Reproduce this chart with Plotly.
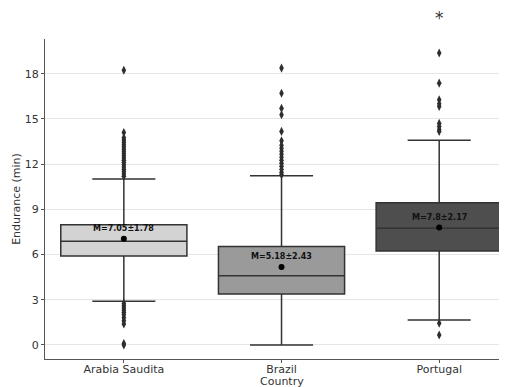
import plotly.graph_objects as go

countries = ["Arabia Saudita", "Brazil", "Portugal"]
q1 = [5.91, 3.38, 6.24]
medians = [6.88, 4.60, 7.75]
q3 = [7.97, 6.53, 9.43]
lower_whisker = [2.90, 0.0, 1.66]
upper_whisker = [11.02, 11.22, 13.59]
means = [7.05, 5.18, 7.80]
sds = [1.78, 2.43, 2.17]
box_colors = ["#d3d3d3", "#9a9a9a", "#4e4e4e"]

outliers = {
    "Arabia Saudita": [18.23, 14.1, 13.75, 13.6, 13.45, 13.3, 13.15, 13.0, 12.85, 12.7,
                       12.55, 12.4, 12.25, 12.1, 11.95, 11.8, 11.65, 11.5, 11.35, 11.2,
                       2.75, 2.6, 2.45, 2.3, 2.15, 2.0, 1.8, 1.6, 1.4, 0.1, 0.0],
    "Brazil": [18.37, 16.7, 15.7, 15.27, 14.17, 13.55, 13.25, 13.05, 12.85, 12.65,
               12.45, 12.25, 12.05, 11.85, 11.65, 11.45, 11.3],
    "Portugal": [19.37, 17.37, 16.27, 16.0, 15.82, 14.7, 14.5, 14.3, 14.17, 1.44, 0.66],
}
star_value = 21.7
y_range = [-0.93, 20.3]
x_range = [-0.5, 2.43]

line_color = "#333333"
fig = go.Figure()

for i, c in enumerate(countries):
    fig.add_trace(go.Box(
        x=[c], q1=[q1[i]], median=[medians[i]], q3=[q3[i]],
        lowerfence=[lower_whisker[i]], upperfence=[upper_whisker[i]],
        fillcolor=box_colors[i], line=dict(color=line_color, width=1.5),
        width=0.8, whiskerwidth=0.5, boxpoints=False, showlegend=False,
        hoverinfo="skip",
    ))
    ys = outliers[c]
    fig.add_trace(go.Scatter(
        x=[c] * len(ys), y=ys, mode="markers", showlegend=False,
        marker=dict(symbol="diamond-tall", size=6.5, color="#2e2e2e"),
    ))

fig.add_trace(go.Scatter(
    x=countries, y=means, mode="markers", showlegend=False,
    marker=dict(symbol="circle", size=6, color="black"),
))

for i, c in enumerate(countries):
    fig.add_annotation(
        x=c, y=means[i] + 0.66, text=f"<b>M={means[i]:g}±{sds[i]:g}</b>",
        showarrow=False, font=dict(family="DejaVu Sans", size=8, color="#111111"),
        xanchor="center", yanchor="middle",
    )

star_paper_y = (star_value - y_range[0]) / (y_range[1] - y_range[0])
fig.add_annotation(x="Portugal", y=star_paper_y, yref="paper", text="*", showarrow=False,
                   font=dict(family="DejaVu Sans", size=17, color="#333333"),
                   yanchor="middle", xanchor="center")

fig.add_annotation(x="Brazil", y=0, yref="paper", yshift=-22, text="Country",
                   showarrow=False, font=dict(family="DejaVu Sans", size=11, color="#333333"),
                   xanchor="center", yanchor="middle")

# invisible companion axis that only draws the outside tick marks
fig.add_trace(go.Scatter(x=countries, y=[None] * 3, xaxis="x2", showlegend=False,
                         hoverinfo="skip"))

fig.update_layout(
    width=507, height=387,
    margin=dict(l=37, r=8, t=31, b=36, autoexpand=False),
    paper_bgcolor="white", plot_bgcolor="white",
    boxmode="overlay",
    font=dict(family="DejaVu Sans", size=11, color="#333333"),
    xaxis=dict(
        type="category", range=x_range, showgrid=False, automargin=False,
        showline=True, linecolor="#555555", linewidth=1.2,
        ticks="", tickfont=dict(size=11),
    ),
    xaxis2=dict(
        type="category", range=x_range, overlaying="x", side="bottom",
        showgrid=False, showline=False, showticklabels=False,
        ticks="outside", ticklen=3, tickcolor="#555555", tickwidth=1,
    ),
    yaxis=dict(
        range=y_range, tickvals=[0, 3, 6, 9, 12, 15, 18], automargin=False,
        showgrid=True, gridcolor="#e6e6e6", gridwidth=1, zeroline=False,
        showline=True, linecolor="#555555", linewidth=1.2,
        ticks="outside", ticklen=3, tickcolor="#555555",
        title=dict(text="Endurance (min)", standoff=1, font=dict(size=11)),
        tickfont=dict(size=11),
    ),
)

fig.write_html("out.html")
